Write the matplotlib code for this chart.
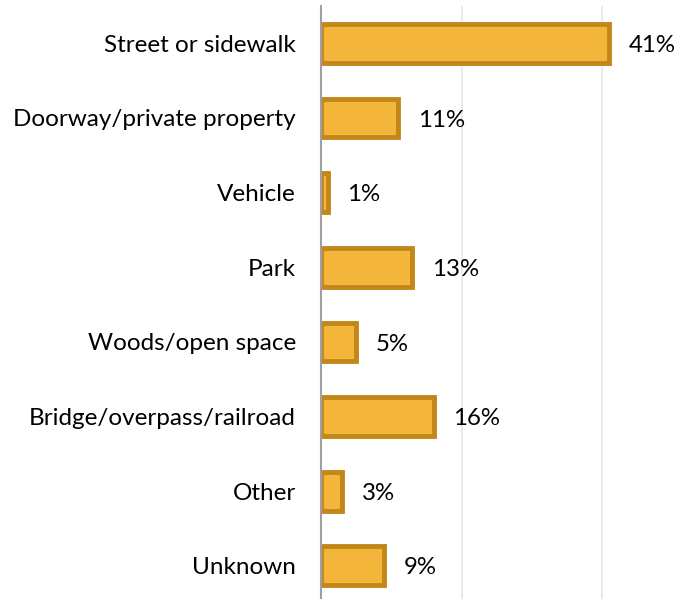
import matplotlib.pyplot as plt

categories = ["Street or sidewalk", "Doorway/private property", "Vehicle", "Park",
              "Woods/open space", "Bridge/overpass/railroad", "Other", "Unknown"]
values = [41, 11, 1, 13, 5, 16, 3, 9]

plt.rcParams['font.family'] = ['Lato', 'DejaVu Sans']

fig = plt.figure(figsize=(6.79, 5.99), dpi=100)
ax = fig.add_axes([0.4728, -0.007, 0.518, 0.997])

y = list(range(len(categories)))
ax.barh(y, values, height=0.52, color='#F4B63A', edgecolor='#C28719', linewidth=3.5)
ax.set_ylim(len(categories) - 0.5, -0.5)
ax.set_xlim(0, 50)

# value labels to the right of each bar
for yi, v in zip(y, values):
    ax.annotate(f"{v}%", (v, yi), xytext=(14, -1.5), textcoords='offset points',
                va='center', ha='left', fontsize=17.3, color='black')

ax.set_yticks(y)
ax.set_yticklabels(categories, fontsize=17.5)
ax.tick_params(axis='y', length=0, pad=18)
ax.set_xticks([20, 40])
ax.tick_params(axis='x', length=0, labelbottom=False)
ax.grid(axis='x', color='#E6E6E6', linewidth=1.2)
ax.set_axisbelow(True)

for s in ['top', 'right', 'bottom']:
    ax.spines[s].set_visible(False)
ax.spines['left'].set_color('#A0A0A0')
ax.spines['left'].set_linewidth(1.5)
ax.spines['left'].set_zorder(5)

fig.savefig('out.png', dpi=100)
